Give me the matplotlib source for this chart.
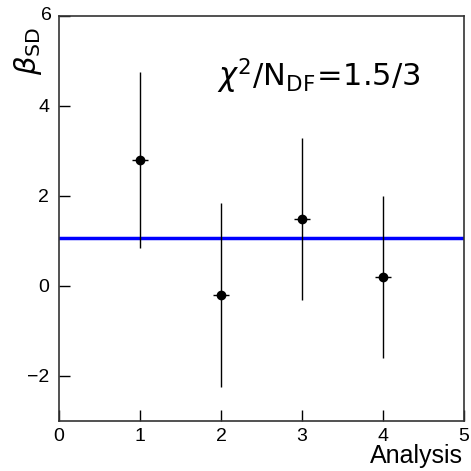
import matplotlib
matplotlib.use("Agg")
import matplotlib.pyplot as plt

analysis = [1, 2, 3, 4]
beta = [2.8, -0.2, 1.5, 0.2]
beta_err = [1.95, 2.05, 1.8, 1.8]
x_err = [0.1, 0.1, 0.1, 0.1]
mean_val = 1.07
x_ticks = [0, 1, 2, 3, 4, 5]
y_ticks = [-2, 0, 2, 4, 6]

plt.rcParams['font.family'] = ['Liberation Sans', 'DejaVu Sans']
fig = plt.figure(figsize=(4.71, 4.71), dpi=100)
ax = fig.add_axes([59/471, 50/471, 405/471, 405/471])

ax.axhline(mean_val, color='#0000ff', lw=2.5, zorder=1)
ax.errorbar(analysis, beta, yerr=beta_err, xerr=x_err, fmt='o', color='black',
            ms=6, elinewidth=1.0, capsize=0, zorder=2)

ax.set_xlim(0, 5)
ax.set_ylim(-3, 6)
ax.set_xticks(x_ticks)
ax.set_yticks(y_ticks)
ax.set_yticklabels(['\u22122', '0', '2', '4', ''])
ax.tick_params(direction='in', length=8, width=1, labelsize=14, pad=7)
ax.tick_params(axis='x', pad=5)
for s in ax.spines.values():
    s.set_linewidth(1.2)
    s.set_color('#333333')

ax.text(0.998, -0.056, 'Analysis', transform=ax.transAxes, ha='right', va='top', fontsize=18)
fig.text(12/471, 1 - 51/471, r'$\beta_{\mathrm{SD}}$', rotation=90, fontsize=21, va='center', ha='left')
fig.text(52/471, 1 - 16/471, '6', fontsize=14, ha='right', va='center')
ax.text(0.39, 0.85, r'$\chi^2/\mathrm{N_{DF}}\!=\!1.5/3$', transform=ax.transAxes,
        fontsize=22, ha='left', va='center')

fig.savefig('out.png', dpi=100)
